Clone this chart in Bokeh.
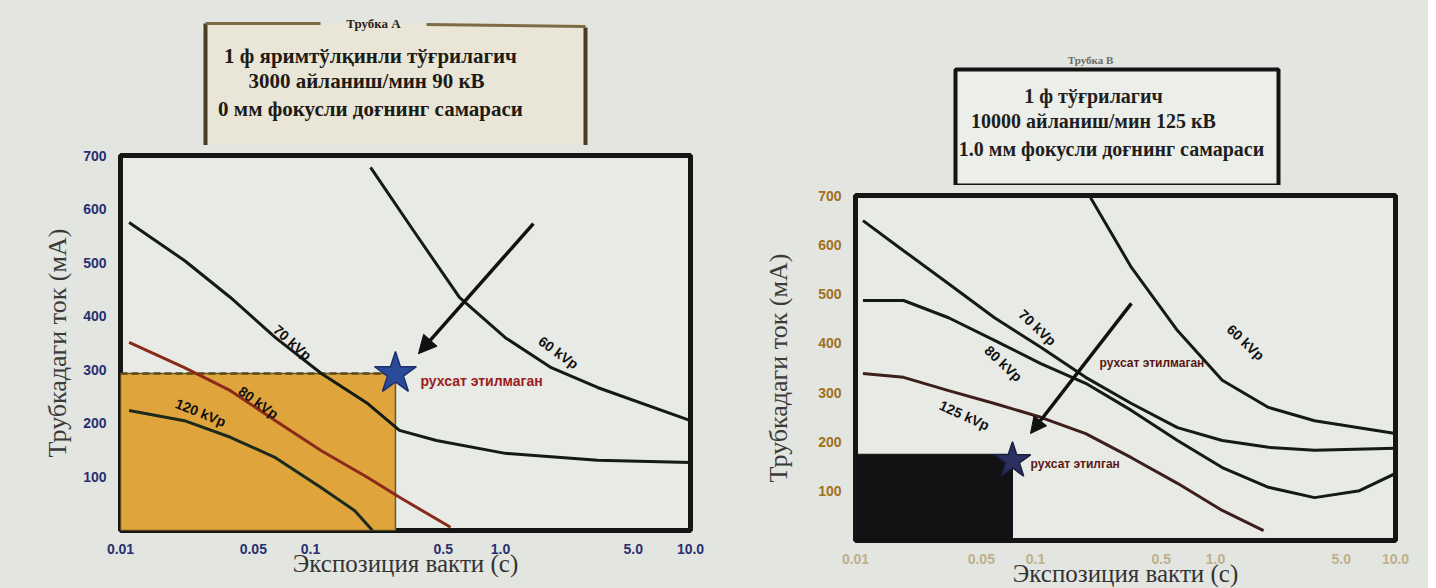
import math
from bokeh.plotting import figure
from bokeh.models import Range1d, FixedTicker, Arrow, NormalHead, Title
from bokeh.layouts import row, column
from bokeh.embed import file_html
from bokeh.resources import INLINE
from bokeh.core.properties import value

# ---------------- data ----------------
x_ticks = [0.01, 0.05, 0.1, 0.5, 1.0, 5.0, 10.0]
x_tick_labels = ["0.01", "0.05", "0.1", "0.5", "1.0", "5.0", "10.0"]
y_ticks = [100, 200, 300, 400, 500, 600, 700]

# Tube A (left chart): exposure time (s) vs tube current (mA)
a_t_60 = [0.207, 0.348, 0.608, 1.06, 1.85, 3.24, 10.0]
a_ma_60 = [678, 560, 435, 360, 304, 267, 205]
a_t_70 = [0.0111, 0.0217, 0.0379, 0.0654, 0.114, 0.2, 0.294, 0.46, 1.06, 3.24, 10.0]
a_ma_70 = [575, 504, 435, 360, 293, 237, 187, 168, 144, 131, 127]
a_t_80 = [0.0111, 0.0217, 0.0379, 0.0654, 0.114, 0.2, 0.294, 0.546]
a_ma_80 = [351, 304, 261, 205, 149, 99, 62, 6]
a_t_120 = [0.0111, 0.0217, 0.0379, 0.0654, 0.114, 0.171, 0.212]
a_ma_120 = [224, 205, 174, 136, 80, 37, 0]
a_star_t = [0.28]
a_star_ma = [293]
a_arrow = (1.49, 573, 0.37, 330)  # t_start, mA_start, t_end, mA_end
a_curve_labels = ["60 kVp", "70 kVp", "80 kVp", "120 kVp"]
a_label_t = [2.02, 0.0804, 0.0532, 0.0264]
a_label_ma = [332, 351, 239, 220]
a_label_angle = [-0.62, -0.72, -0.62, -0.38]
a_note = "рухсат этилмаган"
a_note_t, a_note_ma = 0.379, 280

# Tube B (right chart)
b_t_60 = [0.202, 0.341, 0.615, 1.09, 1.97, 3.55, 10.0]
b_ma_60 = [696, 554, 426, 325, 270, 243, 217]
b_t_70 = [0.011, 0.0185, 0.0329, 0.0592, 0.107, 0.19, 0.341, 0.615, 1.09, 1.97, 3.55, 10.0]
b_ma_70 = [649, 588, 521, 452, 392, 331, 278, 229, 203, 189, 183, 187]
b_t_80 = [0.011, 0.0185, 0.0329, 0.0592, 0.107, 0.19, 0.341, 0.615, 1.09, 1.97, 3.55, 6.31, 10.0]
b_ma_80 = [487, 487, 452, 406, 359, 319, 264, 203, 148, 108, 87, 101, 136]
b_t_125 = [0.011, 0.0185, 0.0329, 0.0592, 0.107, 0.19, 0.341, 0.615, 1.09, 1.85]
b_ma_125 = [339, 331, 304, 278, 250, 217, 168, 116, 61, 20]
b_star_t = [0.0745]
b_star_ma = [162]
b_box_ma = 175
b_arrow = (0.341, 481, 0.0938, 217)
b_curve_labels = ["60 kVp", "70 kVp", "80 kVp", "125 kVp"]
b_label_t = [1.47, 0.1026, 0.0664, 0.0403]
b_label_ma = [402, 432, 359, 254]
b_label_angle = [-0.75, -0.75, -0.75, -0.42]
b_note_top = "рухсат этилмаган"
b_note_top_t, b_note_top_ma = 0.227, 361
b_note_low = "рухсат этилган"
b_note_low_t, b_note_low_ma = 0.0938, 156

title_a = "Трубка А"
lines_a = ["1 ф яримтўлқинли тўғрилагич", "3000 айланиш/мин 90 кВ", "0 мм фокусли доғнинг самараси"]
title_b = "Трубка В"
lines_b = ["1 ф тўғрилагич", "10000 айланиш/мин 125 кВ", "1.0 мм фокусли доғнинг самараси"]

y_label = "Трубкадаги ток (мА)"
x_label = "Экспозиция вакти (с)"

BG = "#e3e5e0"
FRAME_BG = "#e8eae5"
SERIF = "Liberation Serif"
SANS = "Liberation Sans"


def make_chart(fw, fh, left, right, top, bottom, tick_color, xtick_color, ylab_standoff):
    p = figure(x_axis_type="log", x_range=Range1d(0.01, 10), y_range=Range1d(0, 700),
               frame_width=fw, frame_height=fh, min_border_left=left, min_border_right=right,
               min_border_top=top, min_border_bottom=bottom,
               output_backend="svg", toolbar_location=None)
    p.background_fill_color = FRAME_BG
    p.border_fill_color = BG
    p.outline_line_color = "#151515"
    p.outline_line_width = 5
    p.grid.visible = False
    for ax in (p.xaxis[0], p.yaxis[0]):
        ax.axis_line_color = None
        ax.major_tick_line_color = None
        ax.minor_tick_line_color = None
        ax.major_label_text_font = SANS
        ax.major_label_text_font_style = "bold"
        ax.major_label_text_font_size = "14px"
    p.xaxis.ticker = FixedTicker(ticks=x_ticks)
    p.xaxis.major_label_overrides = {t: s for t, s in zip(x_ticks, x_tick_labels)}
    p.xaxis.major_label_text_color = xtick_color
    p.xaxis.major_label_standoff = 7
    p.yaxis.ticker = FixedTicker(ticks=y_ticks)
    p.yaxis.major_label_text_color = tick_color
    p.yaxis.major_label_standoff = 8
    p.xaxis.axis_label = x_label
    p.xaxis.axis_label_text_font = SERIF
    p.xaxis.axis_label_text_font_style = "normal"
    p.xaxis.axis_label_text_font_size = "25px"
    p.xaxis.axis_label_text_color = "#333333"
    p.xaxis.axis_label_standoff = -7
    ttl = Title(text=y_label, align="center", offset=52, standoff=ylab_standoff,
                text_font=SERIF, text_font_style="normal", text_font_size="26px",
                text_color="#3a3a3a")
    p.add_layout(ttl, "left")
    return p


def curve_labels(p, labels, ts, mas, angles):
    p.text(x=ts, y=mas, text=labels, angle=angles, text_align="center", text_baseline="middle",
           text_font=value(SANS), text_font_style="bold", text_font_size="14px", text_color="#111111")


# ---------------- Tube A chart ----------------
pa = make_chart(570, 375, 120, 40, 10, 46, "#283070", "#283070", 18)
pa.quad(left=[0.01], right=a_star_t, bottom=[0], top=a_star_ma, fill_color="#dfa43c",
        line_color="#6b5a20", line_width=1.5)
pa.line([0.01, a_star_t[0]], [a_star_ma[0], a_star_ma[0]], line_color="#5a4a1a", line_width=2.5,
        line_dash="7 4")
pa.line(a_t_120, a_ma_120, line_color="#1c2a1c", line_width=3)
pa.line(a_t_80, a_ma_80, line_color="#8a2a1a", line_width=3)
pa.line(a_t_70, a_ma_70, line_color="#141a14", line_width=3)
pa.line(a_t_60, a_ma_60, line_color="#141a14", line_width=3)
curve_labels(pa, a_curve_labels, a_label_t, a_label_ma, a_label_angle)
pa.text(x=[a_note_t], y=[a_note_ma], text=[a_note], text_align="left", text_baseline="middle",
        text_font=value(SANS), text_font_style="bold", text_font_size="14px", text_color="#9a1c1c")
pa.add_layout(Arrow(end=NormalHead(size=18, fill_color="#111111", line_color="#111111"),
                    x_start=a_arrow[0], y_start=a_arrow[1], x_end=a_arrow[2], y_end=a_arrow[3],
                    line_width=3.5, line_color="#111111"))
pa.scatter(a_star_t, a_star_ma, marker="star", size=44, fill_color="#2c4a9a", line_color="#1d2f6a",
           line_width=1.5)

# ---------------- Tube B chart ----------------
pb = make_chart(540, 345, 125, 33, 10, 40, "#a0701c", "#bdb08a", 45)
pb.quad(left=[0.01], right=b_star_t, bottom=[0], top=[b_box_ma], fill_color="#121214", line_color="#121214")
pb.line(b_t_125, b_ma_125, line_color="#3e1e1a", line_width=3)
pb.line(b_t_80, b_ma_80, line_color="#141a14", line_width=3)
pb.line(b_t_70, b_ma_70, line_color="#141a14", line_width=3)
pb.line(b_t_60, b_ma_60, line_color="#141a14", line_width=3)
curve_labels(pb, b_curve_labels, b_label_t, b_label_ma, b_label_angle)
pb.text(x=[b_note_top_t, b_note_low_t], y=[b_note_top_ma, b_note_low_ma], text=[b_note_top, b_note_low],
        text_align="left", text_baseline="middle", text_font=value(SANS), text_font_style="bold",
        text_font_size="12px", text_color="#5a1612")
pb.add_layout(Arrow(end=NormalHead(size=16, fill_color="#111111", line_color="#111111"),
                    x_start=b_arrow[0], y_start=b_arrow[1], x_end=b_arrow[2], y_end=b_arrow[3],
                    line_width=3.5, line_color="#111111"))
pb.scatter(b_star_t, b_star_ma, marker="star", size=38, fill_color="#2a3060", line_color="#1a1e40",
           line_width=1.5)


# ---------------- header boxes (frame-aligned with the chart below) ----------------
def header(fw, h, left, right):
    f = figure(frame_width=fw, height=h, x_range=Range1d(0, fw), y_range=Range1d(0, h),
               min_border_left=left, min_border_right=right, min_border_top=0, min_border_bottom=0,
               output_backend="svg", toolbar_location=None)
    f.axis.visible = False
    f.grid.visible = False
    f.outline_line_color = None
    f.background_fill_color = BG
    f.border_fill_color = BG
    return f


ha = header(570, 145, 120, 40)
ha.quad(left=[85], right=[465], bottom=[0], top=[122], fill_color="#e9e6d8", line_color=None)
ha.segment(x0=[85, 465], y0=[0, 0], x1=[85, 465], y1=[122, 118], line_color="#4a3c22", line_width=4)
ha.segment(x0=[85, 306], y0=[122, 121], x1=[200, 465], y1=[122, 119], line_color="#7d6b45", line_width=3)
ha.text(x=[253], y=[122], text=[title_a], text_align="center", text_baseline="middle",
        text_font=value(SERIF), text_font_style="bold", text_font_size="13px", text_color="#2a2418")
ha.text(x=[250, 246, 250], y=[90, 65, 37], text=lines_a, text_align="center", text_baseline="middle",
        text_font=value(SERIF), text_font_style="bold", text_font_size="21px", text_color="#1e1a14")

hb = header(540, 185, 125, 33)
hb.quad(left=[100], right=[423], bottom=[0], top=[116], fill_color="#eceee9", line_color="#141414",
        line_width=4)
hb.text(x=[235], y=[126], text=[title_b], text_align="center", text_baseline="middle",
        text_font=value(SERIF), text_font_style="bold", text_font_size="11px", text_color="#6a6a6a")
hb.text(x=[238, 238, 256], y=[90, 65, 37], text=lines_b, text_align="center", text_baseline="middle",
        text_font=value(SERIF), text_font_style="bold", text_font_size="20px", text_color="#1e1e1e")

layout = row(column(ha, pa), column(hb, pb))
layout.styles = {"background-color": BG}

open("out.html", "w").write(file_html(layout, INLINE))
